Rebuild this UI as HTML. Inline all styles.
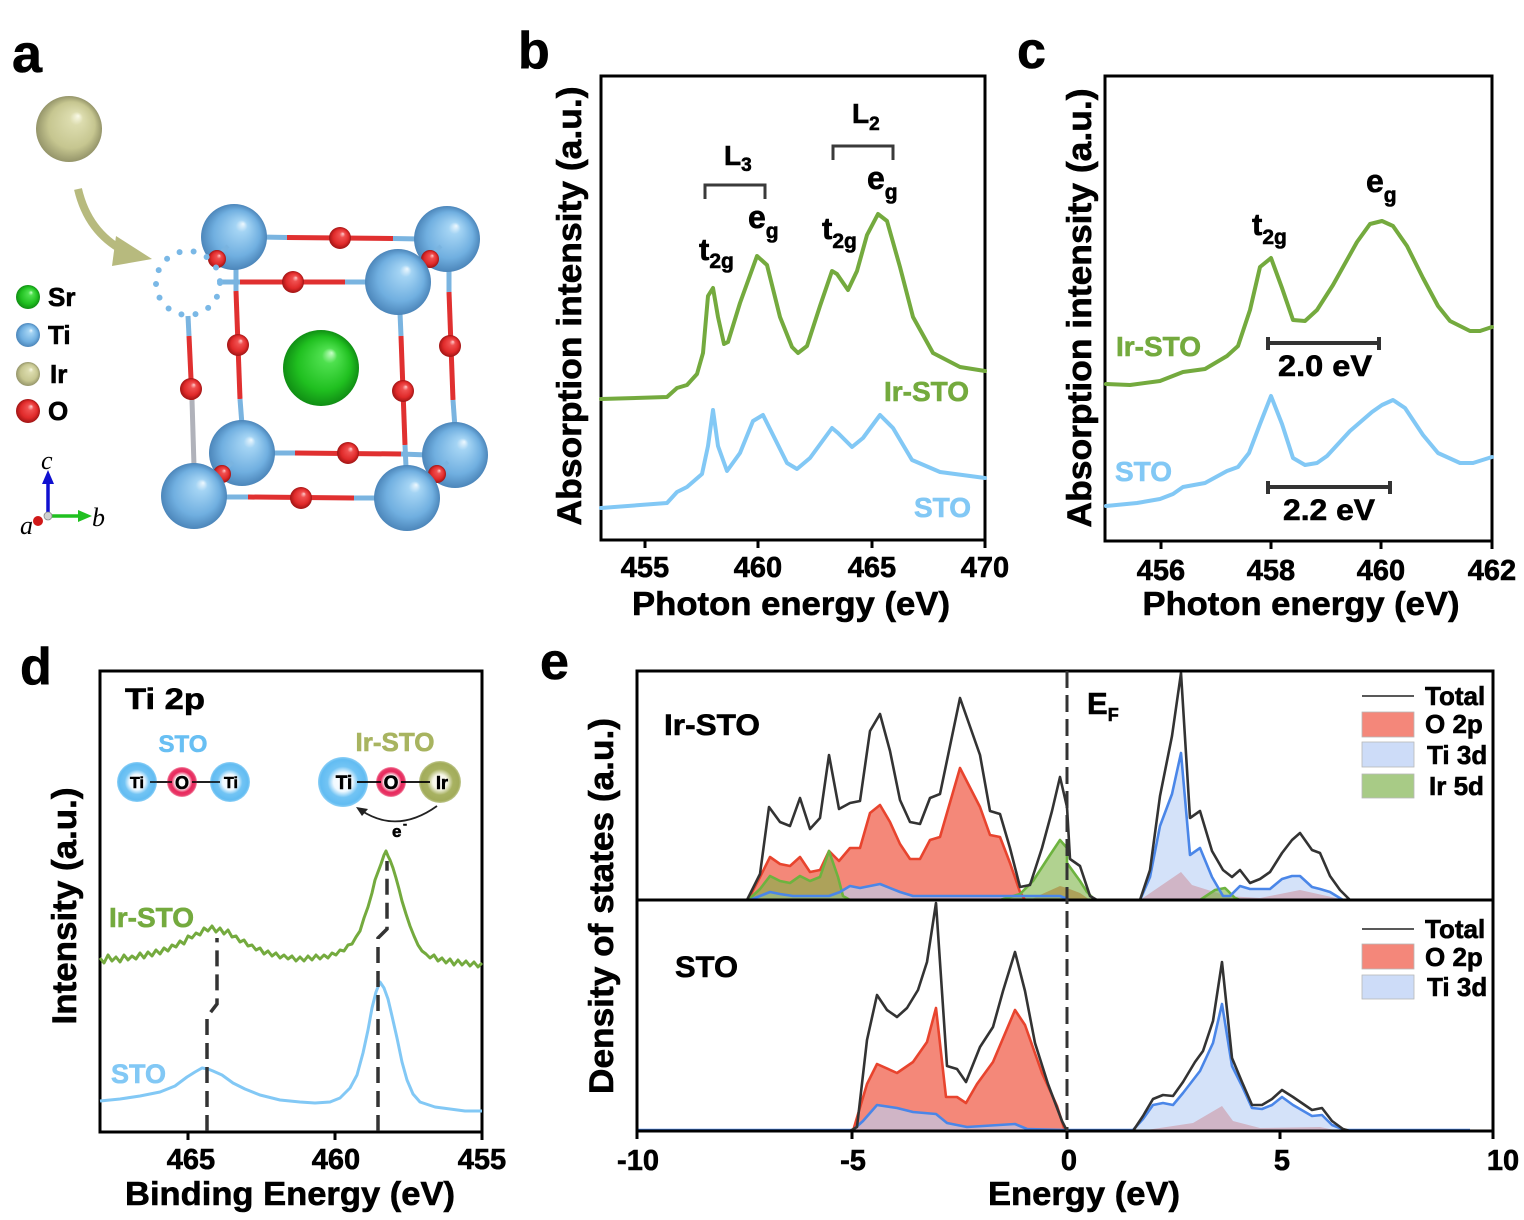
<!DOCTYPE html>
<html><head><meta charset="utf-8"><style>
html,body{margin:0;padding:0;background:#fff;}
svg{display:block;}
text{font-family:"Liberation Sans",Arial,sans-serif;font-weight:bold;fill:#000;stroke:#000;stroke-width:0.6;}
.it{font-family:"Liberation Serif",serif;font-style:italic;font-weight:normal;stroke-width:0;}
.gr{fill:#74aa3e;stroke:#74aa3e;}
.bl{fill:#82c8f5;stroke:#82c8f5;}
.ol{fill:#a8b460;stroke:#a8b460;}
</style></head><body>
<svg width="1524" height="1220" viewBox="0 0 1524 1220" xmlns="http://www.w3.org/2000/svg">
<defs>
<radialGradient id="gTi" cx="0.5" cy="0.5" r="0.5" fx="0.64" fy="0.3"><stop offset="0" stop-color="#eef8fe"/><stop offset="0.18" stop-color="#a4d4f4"/><stop offset="0.7" stop-color="#70afe0"/><stop offset="1" stop-color="#4c86ba"/></radialGradient>
<radialGradient id="gSr" cx="0.5" cy="0.5" r="0.5" fx="0.64" fy="0.3"><stop offset="0" stop-color="#c8ffc8"/><stop offset="0.2" stop-color="#4ee04e"/><stop offset="0.7" stop-color="#20c020"/><stop offset="1" stop-color="#108e14"/></radialGradient>
<radialGradient id="gIr" cx="0.5" cy="0.5" r="0.5" fx="0.64" fy="0.3"><stop offset="0" stop-color="#fafae8"/><stop offset="0.2" stop-color="#dcdcae"/><stop offset="0.7" stop-color="#c6c690"/><stop offset="1" stop-color="#95956a"/></radialGradient>
<radialGradient id="gO" cx="0.5" cy="0.5" r="0.5" fx="0.64" fy="0.3"><stop offset="0" stop-color="#ffd0d0"/><stop offset="0.25" stop-color="#f05050"/><stop offset="0.7" stop-color="#e02a2a"/><stop offset="1" stop-color="#a01414"/></radialGradient>
<radialGradient id="dTi"><stop offset="0" stop-color="#ffffff"/><stop offset="0.38" stop-color="#f0f9ff"/><stop offset="0.62" stop-color="#72c4f4"/><stop offset="0.9" stop-color="#62bcf2"/><stop offset="1" stop-color="#8ed0f6"/></radialGradient>
<radialGradient id="dO"><stop offset="0" stop-color="#ffffff"/><stop offset="0.45" stop-color="#ffffff"/><stop offset="0.7" stop-color="#e8285c"/><stop offset="0.9" stop-color="#e83868"/><stop offset="1" stop-color="#f494ac"/></radialGradient>
<radialGradient id="dIr"><stop offset="0" stop-color="#ffffff"/><stop offset="0.35" stop-color="#f6f6e6"/><stop offset="0.62" stop-color="#a8b262"/><stop offset="0.9" stop-color="#a2ac5a"/><stop offset="1" stop-color="#c0c890"/></radialGradient>
</defs>

<!-- ================= Panel a ================= -->
<text x="12" y="72" font-size="54">a</text>
<circle cx="69" cy="129" r="33" fill="url(#gIr)"/>
<path d="M78,189 Q88,232 124,251" stroke="#b7ba7e" stroke-width="8" fill="none"/>
<polygon points="116,236 152,259 112,266" fill="#b7ba7e"/>

<circle cx="28" cy="297" r="12" fill="url(#gSr)"/><text x="48" y="306" font-size="26">Sr</text>
<circle cx="28" cy="335" r="12" fill="url(#gTi)"/><text x="48" y="344" font-size="26">Ti</text>
<circle cx="28" cy="374" r="12" fill="url(#gIr)"/><text x="50" y="383" font-size="26">Ir</text>
<circle cx="28" cy="411" r="12" fill="url(#gO)"/><text x="48" y="420" font-size="26">O</text>

<line x1="48" y1="513" x2="48" y2="482" stroke="#1010d0" stroke-width="3.5"/>
<polygon points="42,484 54,484 48,470" fill="#1010d0"/>
<line x1="51" y1="516" x2="80" y2="516" stroke="#20c020" stroke-width="3.5"/>
<polygon points="78,510 78,522 92,516" fill="#20c020"/>
<circle cx="48" cy="516" r="4" fill="#d0d0d0" stroke="#888" stroke-width="0.8"/>
<circle cx="38" cy="521" r="5" fill="#d01818"/>
<text class="it" x="41" y="469" font-size="26">c</text>
<text class="it" x="92" y="526" font-size="26">b</text>
<text class="it" x="20" y="534" font-size="26">a</text>

<g stroke-width="5" stroke-linecap="butt">
<line x1="260" y1="237" x2="287" y2="237.5" stroke="#7ab4e0"/><line x1="287" y1="237.5" x2="393" y2="238.5" stroke="#e03030"/><line x1="393" y1="238.5" x2="420" y2="239" stroke="#7ab4e0"/>
<line x1="236" y1="265" x2="236" y2="291" stroke="#7ab4e0"/><line x1="236" y1="291" x2="240" y2="399" stroke="#e03030"/><line x1="240" y1="399" x2="242" y2="425" stroke="#7ab4e0"/>
<line x1="449" y1="265" x2="449" y2="292" stroke="#7ab4e0"/><line x1="449" y1="292" x2="453" y2="400" stroke="#e03030"/><line x1="453" y1="400" x2="455" y2="428" stroke="#7ab4e0"/>
<line x1="270" y1="453" x2="295" y2="453" stroke="#7ab4e0"/><line x1="295" y1="453" x2="401" y2="454" stroke="#e03030"/><line x1="401" y1="454" x2="428" y2="455" stroke="#7ab4e0"/>
</g>
<circle cx="340" cy="238" r="11" fill="url(#gO)"/>
<circle cx="238" cy="345" r="11" fill="url(#gO)"/>
<circle cx="450" cy="346" r="11" fill="url(#gO)"/>
<circle cx="348" cy="453" r="11" fill="url(#gO)"/>
<circle cx="234" cy="237" r="33" fill="url(#gTi)"/>
<circle cx="447" cy="239" r="33" fill="url(#gTi)"/>
<circle cx="242" cy="453" r="33" fill="url(#gTi)"/>
<circle cx="455" cy="455" r="33" fill="url(#gTi)"/>
<g stroke="#7ab4e0" stroke-width="4"><line x1="217" y1="256" x2="228" y2="246"/><line x1="430" y1="256" x2="441" y2="246"/><line x1="222" y1="472" x2="233" y2="462"/><line x1="437" y1="472" x2="448" y2="462"/></g>
<circle cx="217" cy="259" r="9" fill="url(#gO)"/>
<circle cx="430" cy="259" r="9" fill="url(#gO)"/>
<circle cx="222" cy="474" r="9" fill="url(#gO)"/>
<circle cx="437" cy="474" r="9" fill="url(#gO)"/>
<circle cx="321" cy="368" r="38" fill="url(#gSr)"/>
<g stroke-width="5">
<line x1="222" y1="282" x2="240" y2="282" stroke="#7ab4e0"/><line x1="240" y1="282" x2="345" y2="282" stroke="#e03030"/><line x1="345" y1="282" x2="368" y2="282" stroke="#7ab4e0"/>
<line x1="188" y1="316" x2="189" y2="336" stroke="#7ab4e0"/><line x1="189" y1="336" x2="192" y2="400" stroke="#e03030"/><line x1="192" y1="400" x2="194" y2="466" stroke="#b0b2ba"/>
<line x1="400" y1="313" x2="401" y2="336" stroke="#7ab4e0"/><line x1="401" y1="336" x2="405" y2="445" stroke="#e03030"/><line x1="405" y1="445" x2="406" y2="467" stroke="#7ab4e0"/>
<line x1="225" y1="497" x2="248" y2="497" stroke="#7ab4e0"/><line x1="248" y1="497" x2="354" y2="498" stroke="#e03030"/><line x1="354" y1="498" x2="377" y2="498" stroke="#7ab4e0"/>
</g>
<circle cx="293" cy="282" r="11" fill="url(#gO)"/>
<circle cx="191" cy="389" r="11" fill="url(#gO)"/>
<circle cx="403" cy="391" r="11" fill="url(#gO)"/>
<circle cx="301" cy="498" r="11" fill="url(#gO)"/>
<circle cx="398" cy="282" r="33" fill="url(#gTi)"/>
<circle cx="194" cy="496" r="33" fill="url(#gTi)"/>
<circle cx="407" cy="498" r="33" fill="url(#gTi)"/>
<circle cx="188" cy="283" r="32" fill="none" stroke="#7ab8e6" stroke-width="6" stroke-dasharray="0 14.2" stroke-linecap="round"/>

<!-- ================= Panel b ================= -->
<text x="518" y="68" font-size="52">b</text>
<rect x="601" y="76" width="384" height="464" fill="none" stroke="#000" stroke-width="3"/>
<g stroke="#000" stroke-width="3"><line x1="645" y1="540" x2="645" y2="548"/><line x1="758" y1="540" x2="758" y2="548"/><line x1="872" y1="540" x2="872" y2="548"/><line x1="985" y1="540" x2="985" y2="548"/></g>
<g font-size="29" text-anchor="middle"><text x="645" y="577">455</text><text x="758" y="577">460</text><text x="872" y="577">465</text><text x="985" y="577">470</text></g>
<text x="791" y="615" font-size="33" text-anchor="middle" textLength="318" lengthAdjust="spacingAndGlyphs">Photon energy (eV)</text>
<text transform="translate(581,306) rotate(-90)" font-size="34" text-anchor="middle" textLength="439" lengthAdjust="spacingAndGlyphs">Absorption intensity (a.u.)</text>
<polyline fill="none" stroke="#74aa3e" stroke-width="4" stroke-linejoin="round" stroke-linecap="round" points="601,399 667,397 677,388 687,385 697,374 703,353 708,296 713,288 718,317 724,344 728,342 740,303 757,256 767,265 780,317 792,347 798,353 807,346 820,306 832,271 837,274 848,290 857,271 867,235 878,214 887,221 900,267 913,317 933,353 960,367 985,371"/>
<polyline fill="none" stroke="#82c8f5" stroke-width="4" stroke-linejoin="round" stroke-linecap="round" points="601,508 667,503 677,492 687,487 702,474 708,446 713,410 718,446 727,471 740,453 753,421 763,415 773,435 787,463 797,469 810,458 832,428 838,433 852,447 863,438 880,415 893,428 912,460 940,472 985,478"/>
<path d="M705,199 V185 H765 V199" fill="none" stroke="#3a3a3a" stroke-width="3"/>
<path d="M833,160 V146 H893 V160" fill="none" stroke="#3a3a3a" stroke-width="3"/>
<text x="724" y="165" font-size="28">L<tspan font-size="19" dy="6">3</tspan></text>
<text x="852" y="123" font-size="28">L<tspan font-size="19" dy="7">2</tspan></text>
<text x="699" y="260" font-size="31">t<tspan font-size="21" dy="8">2g</tspan></text>
<text x="748" y="228" font-size="32">e<tspan font-size="21" dy="10">g</tspan></text>
<text x="822" y="239" font-size="31">t<tspan font-size="21" dy="9">2g</tspan></text>
<text x="867" y="189" font-size="32">e<tspan font-size="21" dy="10">g</tspan></text>
<text x="884" y="401" font-size="28" class="gr">Ir-STO</text>
<text x="914" y="517" font-size="28" class="bl">STO</text>

<!-- ================= Panel c ================= -->
<text x="1017" y="68" font-size="52">c</text>
<rect x="1105" y="76" width="387" height="465" fill="none" stroke="#000" stroke-width="3"/>
<g stroke="#000" stroke-width="3"><line x1="1161" y1="541" x2="1161" y2="549"/><line x1="1271" y1="541" x2="1271" y2="549"/><line x1="1381" y1="541" x2="1381" y2="549"/><line x1="1492" y1="541" x2="1492" y2="549"/></g>
<g font-size="29" text-anchor="middle"><text x="1161" y="580">456</text><text x="1271" y="580">458</text><text x="1381" y="580">460</text><text x="1492" y="580">462</text></g>
<text x="1301" y="615" font-size="33" text-anchor="middle" textLength="317" lengthAdjust="spacingAndGlyphs">Photon energy (eV)</text>
<text transform="translate(1091,308) rotate(-90)" font-size="34" text-anchor="middle" textLength="439" lengthAdjust="spacingAndGlyphs">Absorption intensity (a.u.)</text>
<polyline fill="none" stroke="#74aa3e" stroke-width="4" stroke-linejoin="round" stroke-linecap="round" points="1106,384 1130,385 1160,381 1183,372 1205,369 1227,356 1238,346 1250,310 1260,267 1271,258 1282,288 1293,320 1305,321 1317,310 1333,285 1357,242 1370,224 1382,221 1393,226 1407,246 1423,278 1438,306 1450,321 1470,331 1480,331 1492,327"/>
<polyline fill="none" stroke="#82c8f5" stroke-width="4" stroke-linejoin="round" stroke-linecap="round" points="1106,506 1137,503 1160,499 1173,494 1183,487 1205,483 1227,471 1238,467 1249,453 1260,424 1271,396 1282,424 1293,458 1305,465 1317,463 1327,456 1350,431 1372,412 1382,405 1393,400 1405,408 1423,435 1438,453 1460,463 1473,463 1492,457"/>
<g stroke="#333" stroke-width="4"><line x1="1267" y1="343" x2="1380" y2="343"/><line x1="1268" y1="337" x2="1268" y2="350"/><line x1="1379" y1="337" x2="1379" y2="350"/>
<line x1="1267" y1="487" x2="1391" y2="487"/><line x1="1268" y1="481" x2="1268" y2="494"/><line x1="1390" y1="481" x2="1390" y2="494"/></g>
<text x="1325" y="376" font-size="30" text-anchor="middle" textLength="94" lengthAdjust="spacingAndGlyphs">2.0 eV</text>
<text x="1329" y="520" font-size="30" text-anchor="middle" textLength="92" lengthAdjust="spacingAndGlyphs">2.2 eV</text>
<text x="1252" y="235" font-size="31">t<tspan font-size="21" dy="9">2g</tspan></text>
<text x="1366" y="192" font-size="32">e<tspan font-size="21" dy="10">g</tspan></text>
<text x="1116" y="356" font-size="28" class="gr">Ir-STO</text>
<text x="1115" y="481" font-size="28" class="bl">STO</text>

<!-- ================= Panel d ================= -->
<text x="20" y="684" font-size="52">d</text>
<rect x="100" y="671" width="382" height="461" fill="none" stroke="#000" stroke-width="3"/>
<g stroke="#000" stroke-width="3"><line x1="188" y1="1132" x2="188" y2="1140"/><line x1="335" y1="1132" x2="335" y2="1140"/><line x1="482" y1="1132" x2="482" y2="1140"/></g>
<g font-size="29" text-anchor="middle"><text x="191" y="1169">465</text><text x="336" y="1169">460</text><text x="482" y="1169">455</text></g>
<text x="290" y="1205" font-size="33" text-anchor="middle" textLength="330" lengthAdjust="spacingAndGlyphs">Binding Energy (eV)</text>
<text transform="translate(76,906) rotate(-90)" font-size="34" text-anchor="middle" textLength="237" lengthAdjust="spacingAndGlyphs">Intensity (a.u.)</text>
<text x="125" y="709" font-size="30" textLength="80" lengthAdjust="spacingAndGlyphs">Ti 2p</text>
<text x="183" y="752" font-size="24" text-anchor="middle" style="fill:#68bff3;stroke:#68bff3">STO</text>
<text x="395" y="751" font-size="26" text-anchor="middle" class="ol">Ir-STO</text>
<line x1="137" y1="782" x2="230" y2="782" stroke="#000" stroke-width="1.6"/>
<circle cx="137" cy="782" r="20" fill="url(#dTi)"/><circle cx="182" cy="782" r="15" fill="url(#dO)"/><circle cx="230" cy="782" r="20" fill="url(#dTi)"/>
<line x1="150" y1="782" x2="172" y2="782" stroke="#000" stroke-width="1.6"/><line x1="192" y1="782" x2="220" y2="782" stroke="#000" stroke-width="1.6"/>
<g font-size="16" text-anchor="middle"><text x="137" y="788">Ti</text><text x="182" y="789" font-size="18">O</text><text x="231" y="788">Ti</text></g>
<circle cx="343" cy="782" r="25" fill="url(#dTi)"/><circle cx="391" cy="782" r="15" fill="url(#dO)"/><circle cx="440" cy="782" r="21" fill="url(#dIr)"/>
<line x1="357" y1="782" x2="381" y2="782" stroke="#000" stroke-width="1.8"/><line x1="401" y1="782" x2="430" y2="782" stroke="#000" stroke-width="1.8"/>
<g font-size="19" text-anchor="middle"><text x="344" y="789">Ti</text><text x="391" y="789">O</text><text x="442" y="789" font-size="18">Ir</text></g>
<path d="M437,806 Q398,834 362,811" fill="none" stroke="#222" stroke-width="1.8"/>
<polygon points="356,807 368,809 362,816" fill="#222"/>
<text x="392" y="837" font-size="17">e</text><text x="403" y="828" font-size="12">-</text>
<polyline fill="none" stroke="#74aa3e" stroke-width="3" stroke-linejoin="round" points="100,958 104,963 108,955 112,961 116,957 120,962 124,955 128,960 132,956 136,959 140,953 144,958 148,952 152,956 156,950 160,954 164,948 168,951 172,945 176,947 180,941 184,944 188,936 192,938 196,933 200,935 204,928 208,931 212,926 216,932 220,928 224,934 228,930 232,937 236,936 240,942 244,940 248,946 252,945 256,950 260,948 264,954 268,951 272,956 276,953 280,958 284,955 288,959 292,956 296,961 300,957 304,961 308,956 312,960 316,955 320,959 324,955 328,958 332,953 336,955 340,950 344,951 348,945 352,944 356,937 360,931 364,918 368,907 372,893 375,880 378,872 381,864 384,855 386,851 388,856 390,860 393,868 396,878 399,889 402,901 406,914 410,926 414,936 418,945 422,951 426,954 430,958 434,955 438,961 442,958 446,963 450,959 454,965 458,960 462,965 466,961 470,966 474,962 478,967 482,963"/>
<polyline fill="none" stroke="#82c8f5" stroke-width="3" stroke-linejoin="round" points="100,1101 120,1099 140,1096 160,1092 175,1086 187,1077 195,1072 202,1068 208,1069 213,1071 222,1075 233,1083 245,1089 260,1095 280,1100 300,1102 315,1103 330,1102 340,1098 350,1088 357,1075 363,1053 368,1030 372,1008 376,992 380,982 384,988 388,999 392,1016 397,1038 402,1062 407,1080 413,1094 420,1102 435,1107 450,1109 465,1111 482,1111"/>
<path d="M207,1131 V1017 L217,1004 V938" fill="none" stroke="#333" stroke-width="3.5" stroke-dasharray="16 8"/>
<path d="M378,1131 V938 L387,929 V861" fill="none" stroke="#333" stroke-width="3.5" stroke-dasharray="16 8"/>
<text x="109" y="927" font-size="28" class="gr">Ir-STO</text>
<text x="111" y="1083" font-size="27" class="bl">STO</text>

<!-- ================= Panel e ================= -->
<text x="540" y="679" font-size="52">e</text>
<text transform="translate(613,906) rotate(-90)" font-size="34" text-anchor="middle" textLength="376" lengthAdjust="spacingAndGlyphs">Density of states (a.u.)</text>
<polygon fill="rgba(242,115,98,0.85)" points="748,900 760,877 770,857 780,864 790,866 800,857 810,872 820,870 829,851 839,861 850,848 860,848 870,813 880,805 890,822 900,844 910,859 920,859 930,840 940,837 960,768 980,807 990,835 1000,837 1010,863 1020,892 1025,900"/>
<polygon fill="rgba(242,115,98,0.85)" points="1030,900 1040,895 1060,886 1067,888 1080,893 1090,900"/>
<polygon fill="rgba(242,115,98,0.85)" points="1140,900 1181,872 1192,885 1227,896 1260,898 1300,890 1327,896 1345,900"/>
<polygon fill="rgba(185,208,246,0.62)" points="750,900 770,892 780,894 793,896 829,896 840,892 850,886 860,888 880,884 900,892 913,896 960,896 1060,896 1070,900"/>
<polygon fill="rgba(185,208,246,0.62)" points="1140,900 1150,877 1160,826 1172,794 1181,753 1190,855 1200,848 1212,877 1223,896 1230,896 1240,886 1250,889 1270,889 1282,879 1292,876 1300,876 1312,887 1320,889 1330,892 1343,900"/>
<polygon fill="rgba(125,180,70,0.6)" points="748,900 760,889 770,876 780,881 790,883 800,876 810,881 820,877 829,851 838,877 843,896 850,900"/>
<polygon fill="rgba(125,180,70,0.6)" points="1000,900 1020,894 1033,881 1050,855 1060,840 1067,848 1067,863 1080,881 1087,892 1095,900"/>
<polygon fill="rgba(125,180,70,0.6)" points="1200,900 1215,890 1225,888 1235,898 1240,900"/>
<g fill="none" stroke-width="2.6" stroke-linejoin="round">
<polyline stroke="#e8442e" points="748,900 760,877 770,857 780,864 790,866 800,857 810,872 820,870 829,851 839,861 850,848 860,848 870,813 880,805 890,822 900,844 910,859 920,859 930,840 940,837 960,768 980,807 990,835 1000,837 1010,863 1020,892 1025,900"/>
<polyline stroke="#6db33f" points="748,900 760,889 770,876 780,881 790,883 800,876 810,881 820,877 829,851 838,877 843,896 850,900"/>
<polyline stroke="#6db33f" points="1000,900 1020,894 1033,881 1050,855 1060,840 1067,848 1067,863 1080,881 1087,892 1095,900"/>
<polyline stroke="#6db33f" points="1200,900 1215,890 1225,888 1235,898 1240,900"/>
<polyline stroke="#4a86e8" points="750,900 770,892 780,894 793,896 829,896 840,892 850,886 860,888 880,884 900,892 913,896 960,896 1060,896 1070,900"/>
<polyline stroke="#4a86e8" points="1140,900 1150,877 1160,826 1172,794 1181,753 1190,855 1200,848 1212,877 1223,896 1230,896 1240,886 1250,889 1270,889 1282,879 1292,876 1300,876 1312,887 1320,889 1330,892 1343,900"/>
<polyline stroke="#333" points="747,900 760,874 769,807 780,822 790,826 800,798 810,829 820,818 829,755 839,809 850,803 860,801 870,731 880,714 890,751 900,800 910,822 920,824 930,798 940,794 960,698 980,755 990,811 1000,814 1010,848 1020,887 1030,885 1042,848 1052,811 1060,777 1067,807 1070,859 1080,866 1090,896 1097,900"/>
<polyline stroke="#333" points="1140,900 1150,870 1160,796 1172,736 1181,673 1190,818 1200,811 1212,851 1223,870 1232,877 1240,870 1250,883 1260,879 1270,872 1282,853 1292,840 1300,833 1312,850 1320,853 1330,876 1340,890 1350,900"/>
</g>
<polygon fill="rgba(242,115,98,0.85)" points="853,1131 867,1084 877,1064 897,1073 913,1062 927,1042 936,1008 946,1097 957,1097 966,1103 977,1084 993,1062 1015,1010 1025,1025 1042,1073 1057,1106 1065,1131"/>
<polygon fill="rgba(242,115,98,0.85)" points="1140,1131 1193,1123 1222,1106 1233,1121 1260,1128 1320,1127 1340,1131"/>
<polygon fill="rgba(185,208,246,0.62)" points="853,1131 863,1121 877,1105 897,1108 913,1112 936,1114 947,1123 967,1127 1015,1124 1027,1129 1065,1131"/>
<polygon fill="rgba(185,208,246,0.62)" points="1133,1131 1143,1119 1153,1105 1163,1103 1173,1105 1183,1093 1200,1071 1213,1043 1222,1004 1232,1066 1242,1086 1252,1108 1262,1109 1272,1105 1282,1097 1293,1105 1312,1116 1322,1115 1332,1125 1345,1131"/>
<g fill="none" stroke-width="2.6" stroke-linejoin="round">
<polyline stroke="#e8442e" points="853,1131 867,1084 877,1064 897,1073 913,1062 927,1042 936,1008 946,1097 957,1097 966,1103 977,1084 993,1062 1015,1010 1025,1025 1042,1073 1057,1106 1065,1131"/>
<polyline stroke="#4a86e8" points="637,1130 853,1130 863,1121 877,1105 897,1108 913,1112 936,1114 947,1123 967,1127 1015,1124 1027,1129 1065,1130 1133,1130 1143,1119 1153,1105 1163,1103 1173,1105 1183,1093 1200,1071 1213,1043 1222,1004 1232,1066 1242,1086 1252,1108 1262,1109 1272,1105 1282,1097 1293,1105 1312,1116 1322,1115 1332,1125 1345,1130 1470,1130"/>
<polyline stroke="#333" points="850,1131 857,1127 867,1040 877,995 887,1010 897,1017 907,1008 918,990 927,962 936,903 947,1066 957,1069 966,1082 980,1047 993,1027 1003,991 1015,952 1025,991 1035,1043 1048,1084 1062,1121 1067,1131"/>
<polyline stroke="#333" points="1133,1131 1143,1116 1153,1099 1163,1095 1173,1096 1183,1082 1195,1062 1203,1051 1213,1021 1222,962 1232,1058 1242,1082 1252,1105 1262,1105 1272,1099 1282,1090 1293,1097 1312,1110 1322,1108 1332,1121 1343,1129 1350,1131"/>
</g>
<rect x="637" y="671" width="856" height="460" fill="none" stroke="#000" stroke-width="3"/>
<line x1="637" y1="900" x2="1493" y2="900" stroke="#000" stroke-width="3"/>
<line x1="1067" y1="671" x2="1067" y2="1131" stroke="#333" stroke-width="3" stroke-dasharray="17 7"/>
<g stroke="#000" stroke-width="3"><line x1="637" y1="1131" x2="637" y2="1139"/><line x1="852" y1="1131" x2="852" y2="1139"/><line x1="1067" y1="1131" x2="1067" y2="1139"/><line x1="1280" y1="1131" x2="1280" y2="1139"/><line x1="1493" y1="1131" x2="1493" y2="1139"/></g>
<g font-size="29" text-anchor="middle"><text x="638" y="1170">-10</text><text x="853" y="1170">-5</text><text x="1069" y="1170">0</text><text x="1282" y="1170">5</text><text x="1503" y="1170">10</text></g>
<text x="1084" y="1205" font-size="33" text-anchor="middle" textLength="192" lengthAdjust="spacingAndGlyphs">Energy (eV)</text>
<text x="664" y="735" font-size="30" textLength="96" lengthAdjust="spacingAndGlyphs">Ir-STO</text>
<text x="675" y="977" font-size="30" textLength="63" lengthAdjust="spacingAndGlyphs">STO</text>
<text x="1087" y="714" font-size="31">E<tspan font-size="18" dy="7">F</tspan></text>
<line x1="1362" y1="696" x2="1414" y2="696" stroke="#222" stroke-width="1.6"/>
<rect x="1362" y="712" width="52" height="25" fill="#f4877a" stroke="#b8b8b8" stroke-width="0.8"/>
<rect x="1362" y="742" width="52" height="25" fill="#cddcf8" stroke="#b8b8b8" stroke-width="0.8"/>
<rect x="1362" y="774" width="52" height="24" fill="#a8cb86" stroke="#b8b8b8" stroke-width="0.8"/>
<g font-size="26"><text x="1425" y="705">Total</text><text x="1425" y="733">O 2p</text><text x="1427" y="764">Ti 3d</text><text x="1429" y="795">Ir 5d</text></g>
<line x1="1362" y1="929" x2="1414" y2="929" stroke="#222" stroke-width="1.6"/>
<rect x="1362" y="944" width="52" height="25" fill="#f4877a" stroke="#b8b8b8" stroke-width="0.8"/>
<rect x="1362" y="975" width="52" height="24" fill="#cddcf8" stroke="#b8b8b8" stroke-width="0.8"/>
<g font-size="26"><text x="1425" y="938">Total</text><text x="1425" y="966">O 2p</text><text x="1427" y="996">Ti 3d</text></g>
</svg>
</body></html>
